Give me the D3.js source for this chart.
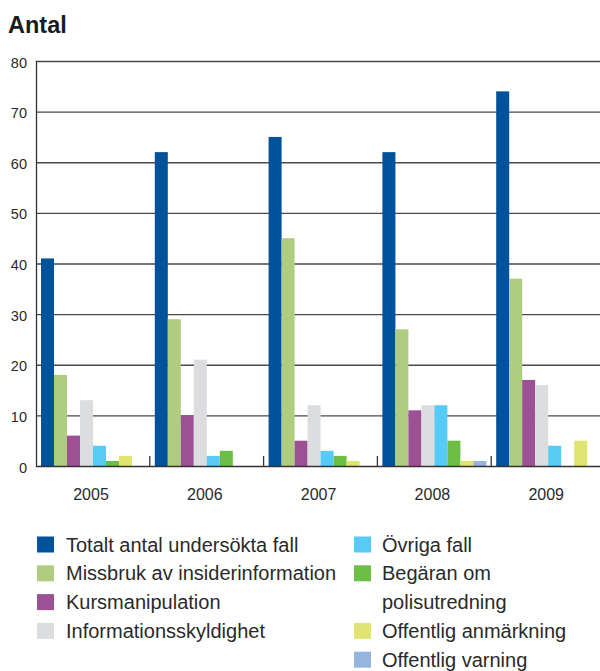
<!DOCTYPE html>
<html>
<head>
<meta charset="utf-8">
<script src="https://cdn.jsdelivr.net/npm/d3@7"></script>
<style>
  html, body { margin: 0; padding: 0; background: #fff; }
  svg { display: block; font-family: "Liberation Sans", Arial, Helvetica, sans-serif; }
</style>
</head>
<body>
<svg id="chart" width="600" height="671"></svg>
<script>
// Undersökta ärenden per år och kategori
const years = ["2005", "2006", "2007", "2008", "2009"];
const seriesNames = [
  "Totalt antal undersökta fall",
  "Missbruk av insiderinformation",
  "Kursmanipulation",
  "Informationsskyldighet",
  "Övriga fall",
  "Begäran om polisutredning",
  "Offentlig anmärkning",
  "Offentlig varning"
];
const totalt          = [41, 62, 65, 62, 74];
const missbruk        = [18, 29, 45, 27, 37];
const kursmanipulation = [6, 10, 5, 11, 17];
const informationsskyldighet = [13, 21, 12, 12, 16];
const ovriga          = [4, 2, 3, 12, 4];
const polisutredning  = [1, 3, 2, 5, 0];
const anmarkning      = [2, 0, 1, 1, 5];
const varning         = [0, 0, 0, 1, 0];
const seriesValues = [totalt, missbruk, kursmanipulation, informationsskyldighet,
                      ovriga, polisutredning, anmarkning, varning];
const yTicks = [0, 10, 20, 30, 40, 50, 60, 70, 80];

const colors = ["#00529b", "#afcd80", "#9b5194", "#dcdddf",
                "#55cbf5", "#6dbe45", "#e0e572", "#94b5de"];

const svg = d3.select("#chart");
const plotLeft = 36, plotRight = 605, plotTop = 61, plotBottom = 466;

const x0 = d3.scaleBand().domain(years).range([plotLeft, plotRight]).padding(0);
const x1 = d3.scaleBand().domain(d3.range(seriesNames.length)).range([5, 109]).padding(0);
const y = d3.scaleLinear().domain([0, 80]).range([plotBottom, plotTop]);

// Title
svg.append("text")
  .attr("x", 8).attr("y", 33)
  .attr("font-size", 23.5).attr("font-weight", "bold").attr("fill", "#1a1a1a")
  .text("Antal");

// Horizontal gridlines
svg.append("g")
  .selectAll("line")
  .data(yTicks.filter(d => d > 0))
  .join("line")
  .attr("x1", plotLeft).attr("x2", 600)
  .attr("y1", d => y(d) + 0.5).attr("y2", d => y(d) + 0.5)
  .attr("stroke", "#4a4a4a").attr("stroke-width", 1.3);

// Y tick labels
svg.append("g")
  .selectAll("text")
  .data(yTicks)
  .join("text")
  .attr("x", 27).attr("y", d => y(d) + 6.5)
  .attr("text-anchor", "end")
  .attr("font-size", 14.5).attr("fill", "#2a2a2a")
  .text(d => d);

// Bars
const groups = svg.append("g")
  .selectAll("g")
  .data(years)
  .join("g")
  .attr("transform", d => `translate(${x0(d)},0)`);

groups.selectAll("rect")
  .data((yr, i) => seriesValues.map((vals, s) => ({ s, v: vals[i] })))
  .join("rect")
  .attr("x", d => x1(d.s))
  .attr("width", x1.bandwidth())
  .attr("y", d => y(d.v))
  .attr("height", d => y(0) - y(d.v))
  .attr("fill", d => colors[d.s]);

// Axis lines
svg.append("line")
  .attr("x1", plotLeft + 0.5).attr("x2", plotLeft + 0.5)
  .attr("y1", plotTop).attr("y2", plotBottom + 1)
  .attr("stroke", "#333").attr("stroke-width", 1.3);
svg.append("line")
  .attr("x1", plotLeft).attr("x2", 600)
  .attr("y1", plotBottom + 0.5).attr("y2", plotBottom + 0.5)
  .attr("stroke", "#333").attr("stroke-width", 1.3);

// Group separator ticks
svg.append("g")
  .selectAll("line")
  .data(years.slice(1))
  .join("line")
  .attr("x1", d => x0(d)).attr("x2", d => x0(d))
  .attr("y1", plotBottom - 10).attr("y2", plotBottom + 1)
  .attr("stroke", "#333").attr("stroke-width", 1.3);

// Year labels
svg.append("g")
  .selectAll("text")
  .data(years)
  .join("text")
  .attr("x", d => x0(d) + 55)
  .attr("y", 500)
  .attr("text-anchor", "middle")
  .attr("font-size", 16).attr("fill", "#2a2a2a")
  .text(d => d);

// Legend
const legendRows = [
  { col: 0, row: 0, s: 0, lines: [seriesNames[0]] },
  { col: 0, row: 1, s: 1, lines: [seriesNames[1]] },
  { col: 0, row: 2, s: 2, lines: [seriesNames[2]] },
  { col: 0, row: 3, s: 3, lines: [seriesNames[3]] },
  { col: 1, row: 0, s: 4, lines: [seriesNames[4]] },
  { col: 1, row: 1, s: 5, lines: ["Begäran om", "polisutredning"] },
  { col: 1, row: 3, s: 6, lines: [seriesNames[6]] },
  { col: 1, row: 4, s: 7, lines: [seriesNames[7]] }
];
const colX = [37, 354];
const rowStep = 28.8;
const rowY = r => 544.5 + r * rowStep;

const leg = svg.append("g")
  .selectAll("g")
  .data(legendRows)
  .join("g")
  .attr("transform", d => `translate(${colX[d.col]},${rowY(d.row)})`);

leg.append("rect")
  .attr("x", 0).attr("y", -8).attr("width", 17).attr("height", 16)
  .attr("fill", d => colors[d.s]);

leg.each(function(d) {
  const g = d3.select(this);
  d.lines.forEach((t, i) => {
    g.append("text")
      .attr("x", d.col === 0 ? 29 : 28).attr("y", 7 + i * rowStep)
      .attr("font-size", 20).attr("fill", "#2a2a2a")
      .text(t);
  });
});
</script>
</body>
</html>
